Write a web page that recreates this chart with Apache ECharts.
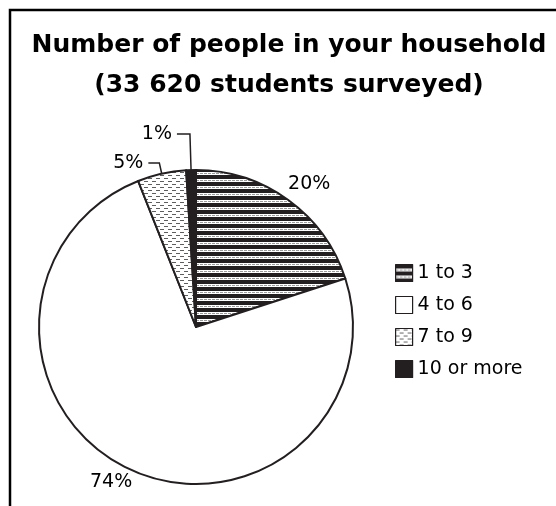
<!DOCTYPE html>
<html>
<head>
<meta charset="utf-8">
<script src="https://cdn.jsdelivr.net/npm/echarts@6/dist/echarts.min.js"></script>
<style>
  html, body { margin: 0; padding: 0; background: #fff; }
  #chart { width: 556px; height: 506px; }
</style>
</head>
<body>
<div id="chart"></div>
<script>
// household size survey, share of students (%)
const categories = ["1 to 3", "4 to 6", "7 to 9", "10 or more"];
const shares = [20, 74, 5, 1];
const titleText = "Number of people in your household\n(33 620 students surveyed)";

const INK = "#231f20";
const FONT = "DejaVu Sans";

// black with thin white/dashed stripes
function stripePattern() {
  const c = document.createElement("canvas");
  c.width = 8;
  c.height = 7;
  const g = c.getContext("2d");
  g.fillStyle = INK;
  g.fillRect(0, 0, 8, 7);
  g.fillStyle = "#fff";
  g.fillRect(0, 4, 8, 1);
  g.fillRect(0, 6, 8, 1);
  g.fillStyle = "#9a9a9a";
  g.fillRect(0, 5, 3, 1);
  g.fillRect(4, 5, 3, 1);
  g.fillStyle = "#fff";
  g.fillRect(3, 5, 1, 1);
  g.fillRect(7, 5, 1, 1);
  return c;
}

// white with staggered grey dashes
function dashPattern() {
  const c = document.createElement("canvas");
  c.width = 8;
  c.height = 6;
  const g = c.getContext("2d");
  g.fillStyle = "#fff";
  g.fillRect(0, 0, 8, 6);
  g.fillStyle = "#5e5e5e";
  g.fillRect(0, 1, 4, 1);
  g.fillRect(4, 4, 4, 1);
  return c;
}

const fills = [
  { image: stripePattern(), repeat: "repeat" },
  "#ffffff",
  { image: dashPattern(), repeat: "repeat" },
  INK
];

// label placement per slice
const labelLines = [
  { show: false, length: 20, length2: -17 },
  { show: false, length: 14, length2: -14 },
  { show: true, length: 11, length2: 11 },
  { show: true, length: 36, length2: 13 }
];

const chart = echarts.init(document.getElementById("chart"), null, { renderer: "canvas" });

const option = {
  animation: false,
  backgroundColor: "#fff",
  title: {
    text: titleText,
    left: 289,
    top: 25,
    padding: 0,
    textAlign: "center",
    textStyle: {
      fontFamily: FONT,
      fontWeight: "bold",
      fontSize: 25,
      lineHeight: 40,
      color: "#000"
    }
  },
  legend: {
    orient: "vertical",
    left: 395,
    top: 263,
    padding: 0,
    itemWidth: 17,
    itemHeight: 17,
    itemGap: 12,
    icon: "rect",
    selectedMode: false,
    data: categories,
    itemStyle: { borderColor: INK, borderWidth: 1.2 },
    textStyle: { fontFamily: FONT, fontSize: 19, lineHeight: 20, color: "#000" }
  },
  graphic: [
    {
      type: "polyline",
      shape: { points: [[556, 10], [10, 10], [10, 506]] },
      style: { stroke: "#000", lineWidth: 2.5, fill: null }
    }
  ],
  series: [
    {
      type: "pie",
      center: [196, 327],
      radius: 157,
      startAngle: 90,
      clockwise: true,
      avoidLabelOverlap: false,
      itemStyle: { borderColor: INK, borderWidth: 2 },
      label: {
        position: "outside",
        formatter: "{c}%",
        fontFamily: FONT,
        fontSize: 19,
        color: "#000",
        distanceToLabelLine: 5
      },
      labelLine: {
        lineStyle: { color: INK, width: 1.5 }
      },
      emphasis: { disabled: true },
      data: categories.map(function (name, i) {
        return {
          name: name,
          value: shares[i],
          itemStyle: { color: fills[i] },
          labelLine: labelLines[i]
        };
      })
    }
  ]
};

chart.setOption(option);
</script>
</body>
</html>
